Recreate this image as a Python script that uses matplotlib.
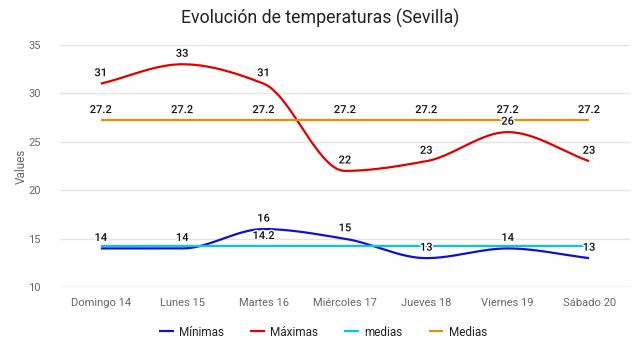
import matplotlib
matplotlib.use("Agg")
import matplotlib.pyplot as plt
import matplotlib.patheffects as pe
import numpy as np

plt.rcParams['font.family'] = ['Roboto', 'DejaVu Sans']

days = ["Domingo 14", "Lunes 15", "Martes 16", "Miércoles 17",
        "Jueves 18", "Viernes 19", "Sábado 20"]
minimas = [14, 14, 16, 15, 13, 14, 13]
maximas = [31, 33, 31, 22, 23, 26, 23]
medias_min = [14.2] * 7
medias_max = [27.2] * 7
# only this label of the light blue series is visible in the original
medias_min_label_idx = [2]

series = [
    ("Mínimas", minimas, "#1010d0", range(7)),
    ("Máximas", maximas, "#e00000", range(7)),
    ("medias", medias_min, "#00c8ee", medias_min_label_idx),
    ("Medias", medias_max, "#f28a00", range(7)),
]


def smooth(y, n=40):
    # monotone cubic (Fritsch-Carlson), unit spacing
    y = np.asarray(y, dtype=float)
    d = np.diff(y)
    m = np.zeros_like(y)
    m[0], m[-1] = d[0], d[-1]
    for k in range(1, len(y) - 1):
        if d[k - 1] * d[k] > 0:
            m[k] = 2.0 / (1.0 / d[k - 1] + 1.0 / d[k])
    xs, ys = [], []
    for k in range(len(y) - 1):
        t = np.linspace(0, 1, n, endpoint=(k == len(y) - 2))
        h00 = 2 * t**3 - 3 * t**2 + 1
        h10 = t**3 - 2 * t**2 + t
        h01 = -2 * t**3 + 3 * t**2
        h11 = t**3 - t**2
        xs.append(k + t)
        ys.append(h00 * y[k] + h10 * m[k] + h01 * y[k + 1] + h11 * m[k + 1])
    return np.concatenate(xs), np.concatenate(ys)


fig = plt.figure(figsize=(6.4, 3.59), dpi=100)
ax = fig.add_axes([0.094, 0.2, 0.89, 0.675])

x = np.arange(len(days))
for name, vals, color, label_idx in series:
    sx, sy = smooth(vals)
    ax.plot(sx, sy, color=color, lw=1.6, label=name, solid_capstyle='butt')
    for i in label_idx:
        v = vals[i]
        txt = f"{v:g}"
        ax.annotate(txt, (x[i], v), xytext=(0, 7.5), textcoords='offset points',
                    ha='center', va='center', fontsize=8, color='#111111',
                    fontweight='medium',
                    path_effects=[pe.withStroke(linewidth=2, foreground='white')])

ax.set_xlim(-0.5, 6.5)
ax.set_ylim(10, 35)
ax.set_yticks([10, 15, 20, 25, 30, 35])
ax.set_xticks(x)
ax.set_xticklabels(days)
ax.tick_params(length=0, labelsize=8, colors='#666666', pad=8)
ax.tick_params(axis='y', pad=14)
ax.grid(axis='y', color='#e4e4e4', lw=1)
ax.set_axisbelow(True)
for s in ax.spines.values():
    s.set_visible(False)
ax.axhline(10, color='#c8ccd8', lw=1, zorder=0.5)

ax.set_ylabel("Values", fontsize=8.5, color='#666666', labelpad=0)
fig.text(0.5, 0.95, "Evolución de temperaturas (Sevilla)", ha='center',
         va='center', fontsize=12.8, color='#222222')

fig.legend(loc='center', bbox_to_anchor=(0.505, 0.075), ncol=4, frameon=False,
           fontsize=8.5, handlelength=1.2, columnspacing=2.2, handletextpad=0.5,
           labelcolor='#222222')

fig.savefig("out.png", dpi=100)
